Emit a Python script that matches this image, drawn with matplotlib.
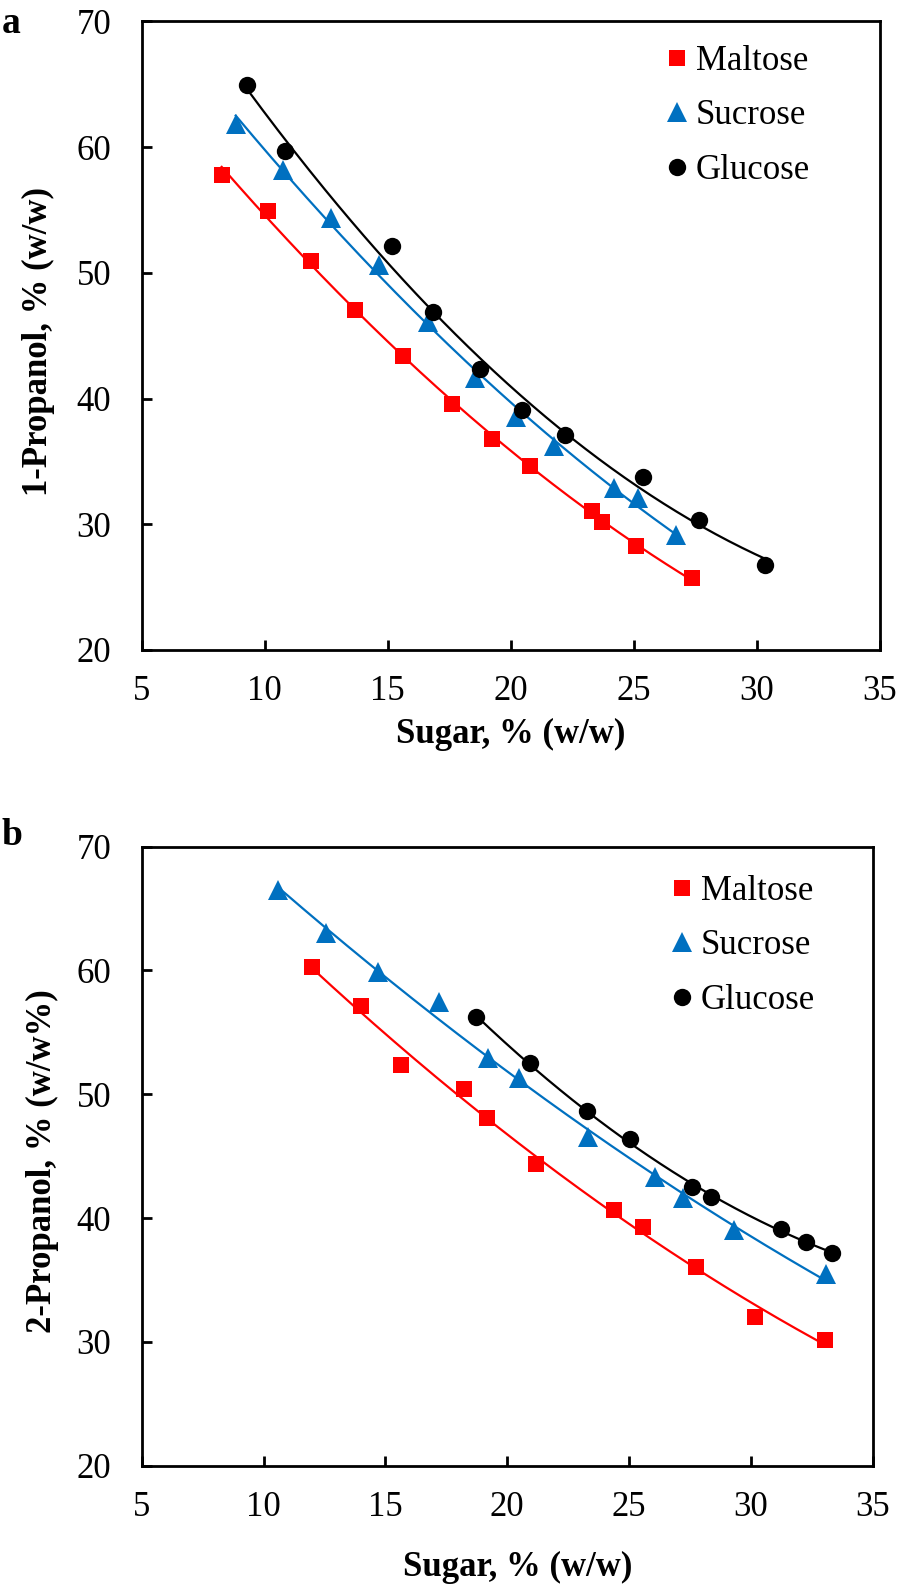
import numpy as np
import matplotlib
matplotlib.use("Agg")
import matplotlib.pyplot as plt

plt.rcParams['font.family'] = ['Liberation Serif', 'DejaVu Serif']

# ---------------- data: panel a (1-propanol) ----------------
a_maltose_x = [8.25, 10.12, 11.87, 13.68, 15.63, 17.6, 19.25, 20.78, 23.29, 23.70, 25.08, 27.36]
a_maltose_y = [57.8, 54.95, 50.95, 47.05, 43.41, 39.6, 36.76, 34.66, 31.08, 30.21, 28.27, 25.70]
a_sucrose_x = [8.82, 10.76, 12.70, 14.66, 16.65, 18.55, 20.20, 21.77, 24.21, 25.16, 26.72]
a_sucrose_y = [61.85, 58.19, 54.34, 50.63, 46.12, 41.64, 38.56, 36.23, 32.86, 32.07, 29.15]
a_glucose_x = [9.27, 10.83, 15.16, 16.85, 18.75, 20.45, 22.21, 25.35, 27.63, 30.34]
a_glucose_y = [64.95, 59.72, 52.14, 46.91, 42.33, 39.09, 37.10, 33.79, 30.34, 26.76]

# ---------------- data: panel b (2-propanol) ----------------
b_maltose_x = [12.0, 14.0, 15.66, 18.23, 19.16, 21.20, 24.39, 25.57, 27.75, 30.19, 33.03]
b_maltose_y = [60.31, 57.16, 52.37, 50.40, 48.11, 44.35, 40.65, 39.31, 36.07, 32.04, 30.15]
b_sucrose_x = [10.59, 12.57, 14.71, 17.21, 19.22, 20.48, 23.30, 26.07, 27.23, 29.30, 33.09]
b_sucrose_y = [66.50, 63.05, 59.85, 57.48, 52.96, 51.29, 46.58, 43.34, 41.60, 39.04, 35.46]
b_glucose_x = [18.71, 20.93, 23.27, 25.02, 27.57, 28.36, 31.23, 32.25, 33.34]
b_glucose_y = [56.27, 52.50, 48.65, 46.37, 42.49, 41.73, 39.12, 38.09, 37.21]

series_names = ['Maltose', 'Sucrose', 'Glucose']
colors = ['#FF0000', '#0070C0', '#000000']
markers = ['s', '^', 'o']
msizes = [12, 15, 12.5]

x_ticks = [5, 10, 15, 20, 25, 30, 35]
y_ticks = [20, 30, 40, 50, 60, 70]

W, H = 898, 1591
fig = plt.figure(figsize=(W / 100, H / 100), dpi=100)

def px_axes(l, t, r, b):
    return fig.add_axes([l / W, 1 - b / H, (r - l) / W, (b - t) / H])

ax_a = px_axes(141.7, 21.3, 880.0, 650.0)
ax_b = px_axes(141.7, 846.7, 872.7, 1465.7)

def draw(ax, data, ylabel, legend_anchor, xlabel_coords, ylabel_coords):
    for (xs, ys), name, c in zip(data, series_names, colors):
        xs = np.asarray(xs); ys = np.asarray(ys)
        coef = np.polyfit(xs, ys, 2)
        xf = np.linspace(xs.min(), xs.max(), 200)
        ax.plot(xf, np.polyval(coef, xf), color=c, lw=1.6, zorder=2)
    handles = []
    for (xs, ys), name, c, m, ms in zip(data, series_names, colors, markers, msizes):
        h, = ax.plot(xs, ys, linestyle='none', marker=m, ms=ms, color=c,
                     markeredgewidth=0, label=name, zorder=3)
        handles.append(h)
    ax.set_xlim(5, 35)
    ax.set_ylim(20, 70)
    ax.set_xticks(x_ticks)
    ax.set_yticks(y_ticks)
    for s in ax.spines.values():
        s.set_linewidth(2.0)
    ax.tick_params(axis='both', direction='in', length=7, width=2, labelsize=25)
    ax.tick_params(axis='x', pad=18)
    ax.tick_params(axis='y', pad=22)
    ax.set_xlabel('Sugar, % (w/w)', fontsize=25, fontweight='bold')
    ax.set_ylabel(ylabel, fontsize=25, fontweight='bold')
    ax.xaxis.set_label_coords(*xlabel_coords)
    ax.yaxis.set_label_coords(*ylabel_coords)
    ax.legend(handles=handles, loc='upper left', bbox_to_anchor=legend_anchor,
              frameon=False, fontsize=25, handlelength=0.8, handletextpad=0.15,
              borderpad=0, borderaxespad=0, labelspacing=0.62, markerscale=1.0)

draw(ax_a,
     [(a_maltose_x, a_maltose_y), (a_sucrose_x, a_sucrose_y), (a_glucose_x, a_glucose_y)],
     '1-Propanol, % (w/w)', (0.706, 0.9625), (0.4995, -0.108), (-0.117, 0.491))
draw(ax_b,
     [(b_maltose_x, b_maltose_y), (b_sucrose_x, b_sucrose_y), (b_glucose_x, b_glucose_y)],
     '2-Propanol, % (w/w%)', (0.7196, 0.9545), (0.515, -0.137), (-0.1135, 0.492))

fig.text(2 / W, 1 - 33 / H, 'a', fontsize=27, fontweight='bold', ha='left', va='baseline')
fig.text(2 / W, 1 - 845 / H, 'b', fontsize=27, fontweight='bold', ha='left', va='baseline')

fig.savefig('out.png', dpi=100)
